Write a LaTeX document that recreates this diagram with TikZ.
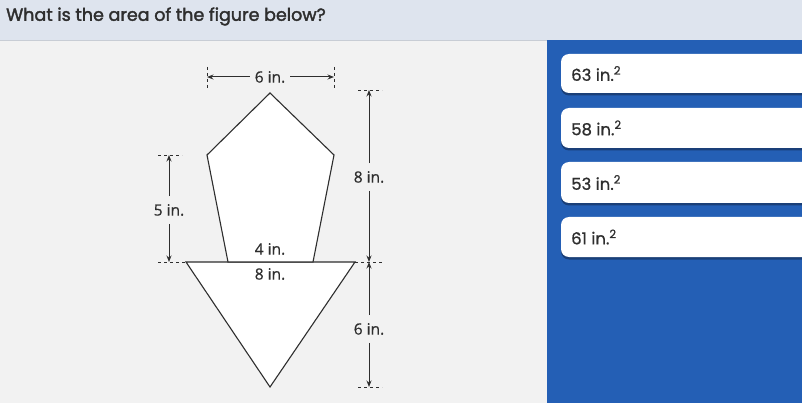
\documentclass[tikz,border=0pt]{standalone}
\usepackage{fontspec}
\setmainfont{Open Sans}
\newfontfamily\labfont{Open Sans}[FakeBold=0.6]
\newfontfamily\popfont{Poppins}[FakeBold=0.8]
\newfontfamily\titlefont{Poppins}[FakeBold=2]
\usetikzlibrary{arrows.meta}
\definecolor{headbg}{HTML}{DEE4EE}
\definecolor{headline}{HTML}{C8CDD5}
\definecolor{leftbg}{HTML}{F2F2F2}
\definecolor{panelblue}{HTML}{245FB5}
\definecolor{shadowblue}{HTML}{1A3F78}
\definecolor{ink}{HTML}{2E2E2E}
\tikzset{
  shapeline/.style={draw=ink, line width=1.1pt, fill=white, line join=miter},
  dimarrow/.style={draw=ink, line width=1pt, -{Stealth[length=6.5pt,width=5pt]}},
  ticks/.style={draw=ink, line width=0.9pt, dash pattern=on 3pt off 3pt},
  dimlabel/.style={text=ink, font=\labfont\fontsize{15.5}{18}\selectfont, inner sep=5pt},
  answer/.style={fill=white, rounded corners=8pt},
  answershadow/.style={fill=shadowblue, rounded corners=8pt},
  answertext/.style={anchor=west, text=ink, font=\popfont\fontsize{16.5}{18}\selectfont, inner sep=0pt},
}
\begin{document}
\begin{tikzpicture}[x=1pt,y=-1pt]
\useasboundingbox (0,0) rectangle (802,403);
% backgrounds
\fill[headbg] (0,0) rectangle (802,40.5);
\fill[leftbg] (0,40.5) rectangle (547,403);
\fill[panelblue] (547,40.5) rectangle (802,403);
\draw[headline, line width=1pt] (0,40.5) -- (547,40.5);
\node[anchor=west, text=ink, font=\titlefont\fontsize{17.5}{20}\selectfont, inner sep=0pt] (title) at (6,16.5) {What is the area of the figure below?};

% answers
\begin{scope}
\clip (547,40.5) rectangle (802,403);
\foreach \t/\b/\lab/\nm in {54/93/63/a1,108/148/58/a2,162/203/53/a3,217/257/61/a4}{
  \fill[answershadow] (561,\t+3) rectangle (815,\b+2.5);
  \fill[answer] (561,\t) rectangle (815,\b);
  \node[answertext] (\nm) at (571,{(\t+\b)/2}) {\lab\ in.\textsuperscript{2}};
}
\end{scope}

% figure vertices
\coordinate (apex) at (270,93);
\coordinate (ul) at (207,155);
\coordinate (ur) at (334,155);
\coordinate (ll) at (228,262);
\coordinate (lr) at (313,262);
\coordinate (tl) at (186,262);
\coordinate (tr) at (355,262);
\coordinate (tb) at (270,387);

\draw[shapeline] (tl) -- (tr) -- (tb) -- cycle;
\draw[shapeline] (apex) -- (ur) -- (lr) -- (ll) -- (ul) -- cycle;

\node[dimlabel] (l4) at (270,249) {4 in.};
\node[dimlabel] (l8b) at (270,274) {8 in.};

% top dimension
\draw[ticks] (207,67) -- (207,89);
\draw[ticks] (334,67) -- (334,89);
\coordinate (t6l) at (207,77);
\coordinate (t6r) at (334,77);
\node[dimlabel] (l6t) at (270,77) {6 in.};
\draw[dimarrow] (l6t) -- (t6l);
\draw[dimarrow] (l6t) -- (t6r);

% left dimension 5 in.
\draw[ticks] (158,155) -- (182,155);
\draw[ticks] (158,262) -- (186,262);
\coordinate (d5t) at (169,155);
\coordinate (d5b) at (169,262);
\node[dimlabel, inner sep=8pt] (l5) at (169,210) {5 in.};
\draw[dimarrow] (l5) -- (d5t);
\draw[dimarrow] (l5) -- (d5b);

% right dimension 8 in.
\draw[ticks] (358,90) -- (382,90);
\draw[ticks] (355,262) -- (382,262);
\draw[ticks] (358,387) -- (382,387);
\coordinate (d8t) at (369,90);
\coordinate (d8b) at (369,262);
\coordinate (d6b) at (369,387);
\node[dimlabel, inner sep=8pt] (l8) at (369,177) {8 in.};
\draw[dimarrow] (l8) -- (d8t);
\draw[dimarrow] (l8) -- (d8b);
\node[dimlabel, inner sep=8pt] (l6r) at (369,329) {6 in.};
\draw[dimarrow] (l6r) -- (d8b);
\draw[dimarrow] (l6r) -- (d6b);
\end{tikzpicture}
\end{document}
